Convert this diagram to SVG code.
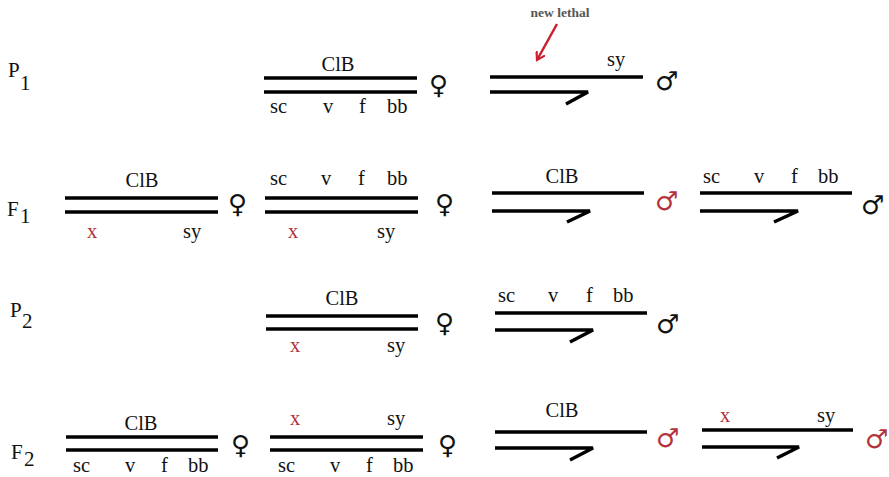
<svg xmlns="http://www.w3.org/2000/svg" width="889" height="477" viewBox="0 0 889 477">
<style>
.ln{stroke:#000;stroke-width:3.5;fill:none;stroke-linecap:butt}
.t{font-family:"Liberation Serif",serif;font-size:20.5px;fill:#111}
.sub{font-family:"Liberation Serif",serif;font-size:21px;fill:#111}
.g{font-family:"Liberation Serif",serif;font-size:21px;fill:#111}
.sym{font-family:"DejaVu Sans",sans-serif;font-size:26px;fill:#111}
.r{fill:#b3323c}
.m{text-anchor:middle}
.lethal{font-family:"Liberation Serif",serif;font-size:13.5px;font-weight:bold;fill:#555}
</style>
<defs>
<marker id="ah" viewBox="0 0 10 10" refX="8" refY="5" markerWidth="10" markerHeight="10" orient="auto" markerUnits="userSpaceOnUse">
<path d="M0,0 L8,5 L0,10" fill="none" stroke="#cc1f2f" stroke-width="2.2"/>
</marker>
</defs>
<rect width="889" height="477" fill="#fff"/>

<g id="labels">
<text class="g" x="8" y="77">P</text><text class="sub" x="20" y="90">1</text>
<text class="g" x="7" y="216">F</text><text class="sub" x="20" y="223">1</text>
<text class="g" x="10" y="317">P</text><text class="sub" x="22" y="328">2</text>
<text class="g" x="11" y="459">F</text><text class="sub" x="24" y="466">2</text>
</g>

<!-- P1 -->
<g id="p1-female">
<line class="ln" x1="264" y1="78" x2="417" y2="78"/>
<line class="ln" x1="264" y1="92" x2="417" y2="92"/>
<text class="t m" x="338" y="71">ClB</text>
<text class="t" x="270" y="113">sc</text><text class="t" x="323" y="113">v</text><text class="t" x="359" y="113">f</text><text class="t" x="387" y="113">bb</text>
<text class="sym" x="429" y="94">♀</text>
</g>
<g id="p1-male">
<line class="ln" x1="490" y1="77" x2="643" y2="77"/>
<polyline class="ln" points="490,92 588,92 566,104"/>
<text class="t" x="607" y="66">sy</text>
<text class="sym" x="655" y="90">♂</text>
<text class="lethal" x="560" y="17" text-anchor="middle">new lethal</text>
</g>

<!-- F1 -->
<g id="f1-female-1">
<line class="ln" x1="65" y1="198" x2="218" y2="198"/>
<line class="ln" x1="65" y1="212" x2="218" y2="212"/>
<text class="t m" x="142" y="187">ClB</text>
<text class="t r" x="87" y="238">x</text>
<text class="t" x="183" y="238">sy</text>
<text class="sym" x="228" y="213">♀</text>
</g>
<g id="f1-female-2">
<line class="ln" x1="265" y1="198" x2="418" y2="198"/>
<line class="ln" x1="265" y1="212" x2="418" y2="212"/>
<text class="t" x="270" y="185">sc</text><text class="t" x="321" y="185">v</text><text class="t" x="358" y="185">f</text><text class="t" x="387" y="185">bb</text>
<text class="t r" x="288" y="238">x</text>
<text class="t" x="377" y="238">sy</text>
<text class="sym" x="435" y="213">♀</text>
</g>
<g id="f1-male-1">
<line class="ln" x1="492" y1="193" x2="644" y2="193"/>
<polyline class="ln" points="492,211 590,211 567,222"/>
<text class="t m" x="562" y="183">ClB</text>
<text class="sym r" x="655" y="210">♂</text>
</g>
<g id="f1-male-2">
<line class="ln" x1="700" y1="193" x2="852" y2="193"/>
<polyline class="ln" points="700,211 798,211 774,222"/>
<text class="t" x="703" y="183">sc</text><text class="t" x="754" y="183">v</text><text class="t" x="791" y="183">f</text><text class="t" x="818" y="183">bb</text>
<text class="sym" x="861" y="214">♂</text>
</g>

<!-- P2 -->
<g id="p2-female">
<line class="ln" x1="266" y1="316" x2="418" y2="316"/>
<line class="ln" x1="266" y1="329" x2="418" y2="329"/>
<text class="t m" x="342" y="305">ClB</text>
<text class="t r" x="290" y="352">x</text>
<text class="t" x="387" y="352">sy</text>
<text class="sym" x="435" y="332">♀</text>
</g>
<g id="p2-male">
<line class="ln" x1="495" y1="313" x2="647" y2="313"/>
<polyline class="ln" points="495,330 593,330 570,342"/>
<text class="t" x="498" y="302">sc</text><text class="t" x="548" y="302">v</text><text class="t" x="586" y="302">f</text><text class="t" x="613" y="302">bb</text>
<text class="sym" x="656" y="333">♂</text>
</g>

<!-- F2 -->
<g id="f2-female-1">
<line class="ln" x1="66" y1="437" x2="218" y2="437"/>
<line class="ln" x1="66" y1="450" x2="218" y2="450"/>
<text class="t m" x="141" y="430">ClB</text>
<text class="t" x="73" y="472">sc</text><text class="t" x="125" y="472">v</text><text class="t" x="161" y="472">f</text><text class="t" x="188" y="472">bb</text>
<text class="sym" x="231" y="454">♀</text>
</g>
<g id="f2-female-2">
<line class="ln" x1="270" y1="437" x2="423" y2="437"/>
<line class="ln" x1="270" y1="450" x2="423" y2="450"/>
<text class="t r" x="290" y="425">x</text>
<text class="t" x="387" y="425">sy</text>
<text class="t" x="278" y="472">sc</text><text class="t" x="330" y="472">v</text><text class="t" x="366" y="472">f</text><text class="t" x="393" y="472">bb</text>
<text class="sym" x="438" y="454">♀</text>
</g>
<g id="f2-male-1">
<line class="ln" x1="495" y1="432" x2="647" y2="432"/>
<polyline class="ln" points="495,448 593,448 570,460"/>
<text class="t m" x="562" y="417">ClB</text>
<text class="sym r" x="656" y="447">♂</text>
</g>
<g id="f2-male-2">
<line class="ln" x1="702" y1="430" x2="853" y2="430"/>
<polyline class="ln" points="702,447 799,447 777,458"/>
<text class="t r" x="720" y="422">x</text>
<text class="t" x="817" y="422">sy</text>
<text class="sym r" x="865" y="448">♂</text>
</g>

<g id="connectors">
<line x1="557" y1="24" x2="537" y2="60" stroke="#cc1f2f" stroke-width="2.5" marker-end="url(#ah)"/>
</g>
</svg>
